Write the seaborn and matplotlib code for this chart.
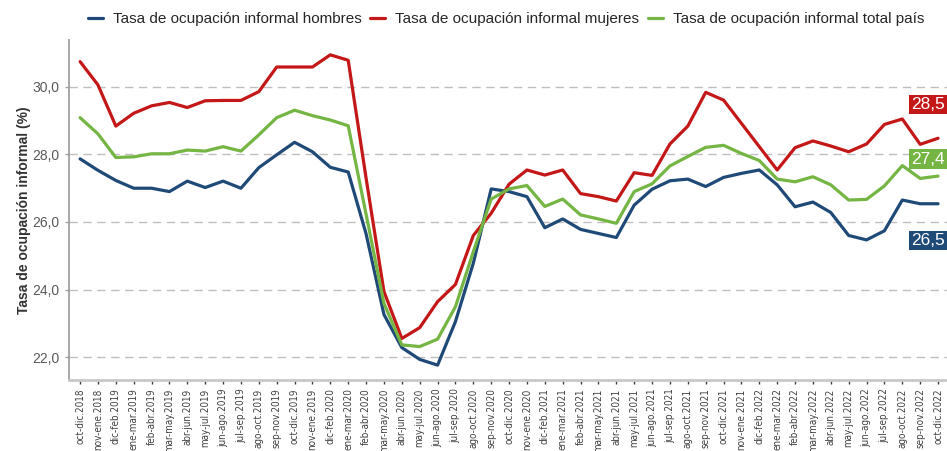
import pandas as pd
import seaborn as sns
import matplotlib.pyplot as plt

# Periodos (trimestres móviles)
periodos = [
    "oct-dic.2018", "nov-ene.2018", "dic-feb.2019", "ene-mar.2019", "feb-abr.2019",
    "mar-may.2019", "abr-jun.2019", "may-jul.2019", "jun-ago.2019", "jul-sep.2019",
    "ago-oct.2019", "sep-nov.2019", "oct-dic.2019", "nov-ene.2019", "dic-feb.2020",
    "ene-mar.2020", "feb-abr.2020", "mar-may.2020", "abr-jun.2020", "may-jul.2020",
    "jun-ago.2020", "jul-sep.2020", "ago-oct.2020", "sep-nov.2020", "oct-dic.2020",
    "nov-ene.2020", "dic-feb.2021", "ene-mar.2021", "feb-abr.2021", "mar-may.2021",
    "abr-jun.2021", "may-jul.2021", "jun-ago.2021", "jul-sep.2021", "ago-oct.2021",
    "sep-nov.2021", "oct-dic.2021", "nov-ene.2021", "dic-feb.2022", "ene-mar.2022",
    "feb-abr.2022", "mar-may.2022", "abr-jun.2022", "may-jul.2022", "jun-ago.2022",
    "jul-sep.2022", "ago-oct.2022", "sep-nov.2022", "oct-dic.2022",
]

hombres = [
    27.87, 27.53, 27.23, 27.00, 27.00, 26.90, 27.21, 27.02, 27.21, 27.00,
    27.61, 27.99, 28.36, 28.08, 27.62, 27.48, 25.65, 23.26, 22.28, 21.93,
    21.76, 23.05, 24.78, 26.98, 26.90, 26.75, 25.83, 26.09, 25.78, 25.66,
    25.54, 26.50, 26.97, 27.22, 27.27, 27.05, 27.32, 27.44, 27.54, 27.10,
    26.45, 26.59, 26.28, 25.60, 25.47, 25.74, 26.65, 26.54, 26.54,
]
mujeres = [
    30.75, 30.06, 28.84, 29.22, 29.44, 29.54, 29.39, 29.59, 29.60, 29.60,
    29.86, 30.59, 30.59, 30.59, 30.95, 30.79, 27.30, 23.94, 22.55, 22.87,
    23.64, 24.15, 25.60, 26.26, 27.12, 27.54, 27.39, 27.54, 26.84, 26.75,
    26.62, 27.46, 27.38, 28.31, 28.84, 29.84, 29.61, 28.92, 28.23, 27.54,
    28.20, 28.40, 28.25, 28.08, 28.31, 28.89, 29.05, 28.30, 28.48,
]
total = [
    29.09, 28.61, 27.91, 27.93, 28.02, 28.02, 28.13, 28.10, 28.23, 28.10,
    28.58, 29.09, 29.31, 29.15, 29.02, 28.85, 26.23, 23.59, 22.36, 22.31,
    22.53, 23.49, 25.12, 26.68, 26.98, 27.08, 26.46, 26.68, 26.21, 26.09,
    25.96, 26.90, 27.13, 27.66, 27.94, 28.21, 28.27, 28.03, 27.82, 27.27,
    27.19, 27.34, 27.10, 26.65, 26.67, 27.07, 27.67, 27.29, 27.36,
]

series = {
    "Tasa de ocupación informal hombres": hombres,
    "Tasa de ocupación informal mujeres": mujeres,
    "Tasa de ocupación informal total país": total,
}
colores = ["#1F4A78", "#C41717", "#74B543"]

rows = []
for nombre, vals in series.items():
    for i, v in enumerate(vals):
        rows.append([i, v, nombre])
df = pd.DataFrame(rows, columns=["idx", "valor", "serie"])

sns.set_style("white")
plt.rcParams["font.family"] = ["Liberation Sans", "DejaVu Sans"]

fig = plt.figure(figsize=(9.47, 4.51), dpi=100)
ax = fig.add_axes([69 / 947, 71 / 451, 878 / 947, 340 / 451])

sns.lineplot(data=df, x="idx", y="valor", hue="serie", palette=colores,
             linewidth=2.3, ax=ax, legend=True)

ax.set_xlim(-0.62, 48.5)
ax.set_ylim(21.32, 31.39)
ax.set_yticks([22, 24, 26, 28, 30])
ax.set_yticklabels([f"{t:.1f}".replace(".", ",") for t in [22, 24, 26, 28, 30]],
                   color="#595959", fontsize=10)
ax.set_xticks(range(len(periodos)))
ax.set_xticklabels(periodos, rotation=90, fontsize=7.1, color="#404040",
                   family="DejaVu Sans", fontstretch="condensed")
ax.tick_params(axis="x", length=3, width=1, color="#404040", pad=3, bottom=True)
ax.tick_params(axis="y", length=3, width=1, color="#A0A0A0", pad=4, left=True)

ax.set_xlabel("")
ax.set_ylabel("Tasa de ocupación informal (%)", fontsize=10, fontweight="bold",
              color="#333333", labelpad=1)

## grid
ax.grid(axis="y", linestyle=(0, (6, 4)), color="#BFBFBF", linewidth=1)
ax.xaxis.grid(False)
ax.set_axisbelow(True)

for s in ["top", "right"]:
    ax.spines[s].set_visible(False)
ax.spines["left"].set_color("#A0A0A0")
ax.spines["left"].set_linewidth(1.3)
ax.spines["bottom"].set_color("#C8C8C8")
ax.spines["bottom"].set_linewidth(2)

# etiquetas del último valor
desplaz = [-37, 34, 17]
for (nombre, vals), col, dy in zip(series.items(), colores, desplaz):
    ax.annotate(f"{vals[-1]:.1f}".replace(".", ","), xy=(len(vals) - 1, vals[-1]),
                xytext=(-27, dy), textcoords="offset pixels", ha="left", va="center",
                color="white", fontsize=12.5,
                bbox=dict(boxstyle="square,pad=0.12", fc=col, ec="none"))

# leyenda
handles, labels = ax.get_legend_handles_labels()
ax.get_legend().remove()
fig.legend(handles, labels, loc="center", bbox_to_anchor=(506 / 947, 1 - 19 / 451),
           ncol=3, frameon=False, fontsize=11, handlelength=1.0,
           handletextpad=0.65, columnspacing=0.55)
for h in fig.legends[0].get_lines():
    h.set_linewidth(2.3)

plt.savefig("out.png", dpi=100)
